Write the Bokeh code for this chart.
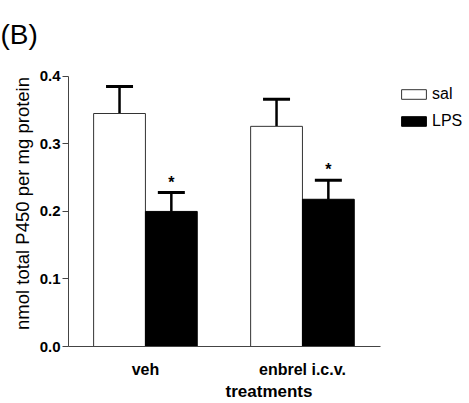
from bokeh.plotting import figure
from bokeh.models import (ColumnDataSource, Whisker, TeeHead, FixedTicker, Legend,
                          LegendItem, Range1d, Title)
from bokeh.core.properties import value
from bokeh.embed import file_html
from bokeh.resources import INLINE

groups = ["veh", "enbrel i.c.v."]
series = ["sal", "LPS"]
sal_mean = [0.345, 0.326]
sal_sem = [0.040, 0.040]
lps_mean = [0.200, 0.218]
lps_sem = [0.028, 0.028]
stars = ["", "*"]  # significance for sal, LPS

FONT = "Liberation Sans Narrow, Liberation Sans, Arial Narrow, sans-serif"

gx = [1, 2]
bw = 0.33
sal_x = [g - bw / 2 for g in gx]
lps_x = [g + bw / 2 for g in gx]

p = figure(width=469, height=403, output_backend="svg", toolbar_location=None,
           x_range=Range1d(0.51, 3.064), y_range=Range1d(0, 0.4235),
           min_border_left=68, min_border_right=0, min_border_top=60,
           min_border_bottom=55)
p.outline_line_color = None
p.grid.visible = False
p.background_fill_color = "white"
p.border_fill_color = "white"

sal_src = ColumnDataSource(dict(x=sal_x, top=sal_mean,
                                up=[m + e for m, e in zip(sal_mean, sal_sem)]))
lps_src = ColumnDataSource(dict(x=lps_x, top=lps_mean,
                                up=[m + e for m, e in zip(lps_mean, lps_sem)],
                                star=[stars[1]] * len(lps_mean)))

r_sal = p.vbar(x="x", top="top", width=bw, bottom=0, source=sal_src,
               fill_color="white", line_color="#333333", line_width=1)
r_lps = p.vbar(x="x", top="top", width=bw, bottom=0, source=lps_src,
               fill_color="black", line_color="black", line_width=1)

for src in (sal_src, lps_src):
    w = Whisker(base="x", lower="top", upper="up", source=src, dimension="height",
                line_width=2.5, line_color="black",
                upper_head=TeeHead(size=27, line_width=3, line_color="black"),
                lower_head=None)
    p.add_layout(w)

p.text(x="x", y="up", text="star", source=lps_src, text_align="center",
       text_baseline="bottom", y_offset=-2, text_font_size="16px",
       text_font=value(FONT), text_font_style="bold", text_color="black")

# axes
p.yaxis.bounds = (0, 0.4)
p.yaxis.ticker = FixedTicker(ticks=[0.0, 0.1, 0.2, 0.3, 0.4])
p.yaxis.formatter.use_scientific = False
p.yaxis.major_label_overrides = {0.0: "0.0", 0.1: "0.1", 0.2: "0.2", 0.3: "0.3", 0.4: "0.4"}
p.yaxis.minor_tick_line_color = None
p.yaxis.major_tick_out = 6
p.yaxis.major_tick_in = 0
p.yaxis.axis_line_color = "#444444"
p.yaxis.major_tick_line_color = "#444444"
p.yaxis.major_label_text_font = FONT
p.yaxis.major_label_text_font_style = "bold"
p.yaxis.major_label_text_font_size = "15px"
p.yaxis.major_label_text_color = "black"
p.yaxis.major_label_standoff = 2
p.yaxis.axis_label = "nmol total P450 per mg protein"
p.yaxis.axis_label_text_font = "Liberation Sans, Arial, sans-serif"
p.yaxis.axis_label_text_font_style = "normal"
p.yaxis.axis_label_text_font_size = "18.5px"
p.yaxis.axis_label_text_color = "black"
p.yaxis.axis_label_standoff = 4

p.xaxis.bounds = (0.51, 2.497)
p.xaxis.ticker = FixedTicker(ticks=gx)
p.xaxis.major_label_overrides = {1: groups[0], 2: groups[1]}
p.xaxis.major_tick_line_color = None
p.xaxis.major_tick_out = 0
p.xaxis.major_tick_in = 0
p.xaxis.minor_tick_line_color = None
p.xaxis.axis_line_color = "#444444"
p.xaxis.major_label_text_font = FONT
p.xaxis.major_label_text_font_style = "bold"
p.xaxis.major_label_text_font_size = "16px"
p.xaxis.major_label_text_color = "black"
p.xaxis.major_label_standoff = 14
p.xaxis.axis_label = "treatments"
p.xaxis.axis_label_text_font = FONT
p.xaxis.axis_label_text_font_style = "bold"
p.xaxis.axis_label_text_font_size = "17px"
p.xaxis.axis_label_text_color = "black"
p.xaxis.axis_label_standoff = 1

p.add_layout(Title(text="(B)", text_font_size="28px", text_font_style="normal",
                   text_font="Liberation Sans, Arial, sans-serif", offset=-68,
                   standoff=22, text_color="black"), "above")

legend = Legend(items=[LegendItem(label=series[0], renderers=[r_sal]),
                       LegendItem(label=series[1], renderers=[r_lps])],
                location=(330, 216), glyph_width=31, glyph_height=12,
                label_text_font=FONT, label_text_font_size="16px",
                label_text_color="black",
                label_standoff=3, spacing=9, padding=2, margin=0,
                border_line_color=None, background_fill_alpha=0)
p.add_layout(legend)

open("out.html", "w").write(file_html(p, INLINE))
